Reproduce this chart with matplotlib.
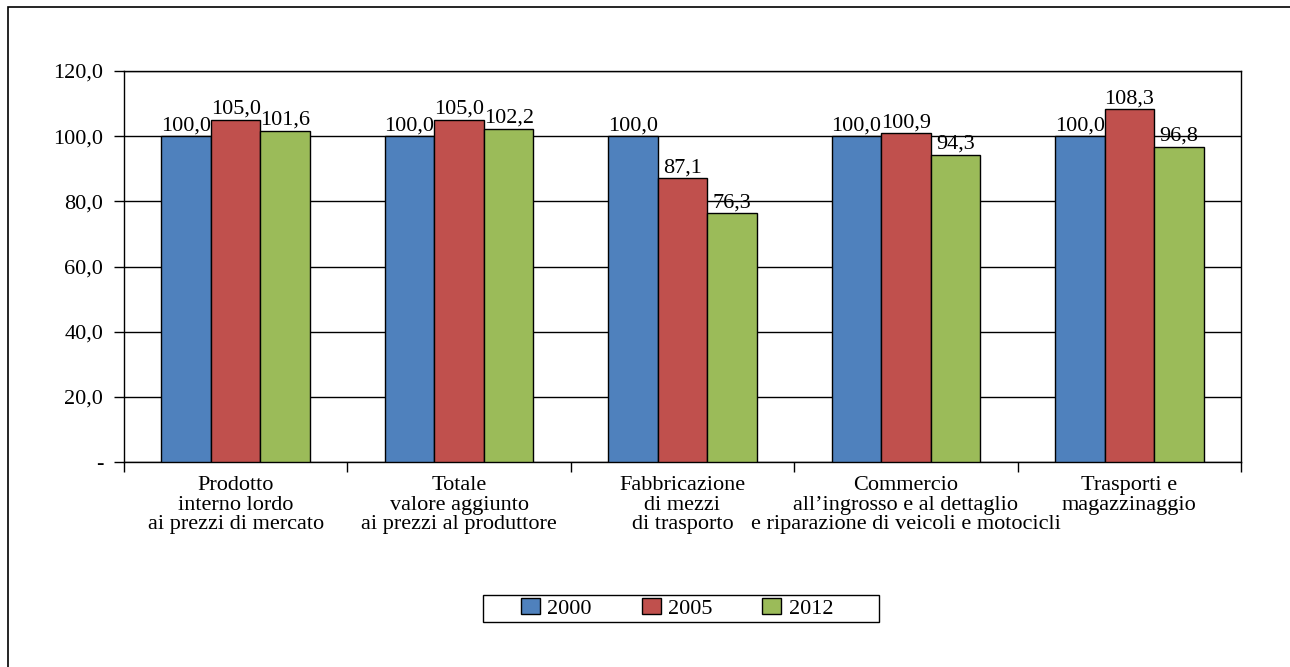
import numpy as np
import matplotlib
matplotlib.use("Agg")
import matplotlib.pyplot as plt
from matplotlib.patches import Rectangle

# data
categories = [
    "Prodotto\ninterno lordo\nai prezzi di mercato",
    "Totale\nvalore aggiunto\nai prezzi al produttore",
    "Fabbricazione\ndi mezzi\ndi trasporto",
    "Commercio\nall\u2019ingrosso e al dettaglio\ne riparazione di veicoli e motocicli",
    "Trasporti e\nmagazzinaggio",
]
years = ["2000", "2005", "2012"]
v2000 = [100.0, 100.0, 100.0, 100.0, 100.0]
v2005 = [105.0, 105.0, 87.1, 100.9, 108.3]
v2012 = [101.6, 102.2, 76.3, 94.3, 96.8]
y_ticks = [0, 20, 40, 60, 80, 100, 120]
y_labels = ["-", "20,0", "40,0", "60,0", "80,0", "100,0", "120,0"]

colors = ["#4F81BD", "#C0504D", "#9BBB59"]

plt.rcParams["font.family"] = ["Liberation Serif", "DejaVu Serif"]
FS = 16

W, H = 1290, 667
fig = plt.figure(figsize=(W / 100, H / 100), dpi=100)
ax = fig.add_axes([124 / W, 1 - 462 / H, (1241 - 124) / W, (462 - 71) / H])

# outer frame of the chart area
fig.patches.append(Rectangle((8 / W, -0.05), 1.1, 1 - 7 / H + 0.05,
                             transform=fig.transFigure, fill=False,
                             edgecolor="black", linewidth=1.2))

x = np.arange(len(categories))
w = 0.222
for i, (vals, year) in enumerate(zip([v2000, v2005, v2012], years)):
    pos = x + (i - 1) * w
    ax.bar(pos, vals, width=w, color=colors[i], edgecolor="black",
           linewidth=1.0, label=year, zorder=3)
    for p, v in zip(pos, vals):
        ax.text(p, v + 0.3, f"{v:.1f}".replace(".", ","), ha="center",
                va="bottom", fontsize=FS, zorder=4)

ax.set_xlim(-0.5, len(categories) - 0.5)
ax.set_ylim(0, 120)
ax.set_yticks(y_ticks)
ax.set_yticklabels(y_labels, fontsize=FS)
ax.yaxis.grid(True, color="black", linewidth=1.0, zorder=0)
ax.set_axisbelow(True)
ax.tick_params(axis="y", direction="out", length=7, width=1.0, pad=8)

ax.set_xticks(x)
ax.set_xticklabels(categories, fontsize=FS, linespacing=1.05)
ax.set_xticks(np.arange(-0.5, len(categories)), minor=True)
ax.tick_params(axis="x", which="major", length=0, pad=10)
ax.tick_params(axis="x", which="minor", direction="out", length=7, width=1.0)

for s in ax.spines.values():
    s.set_color("black")
    s.set_linewidth(1.0)

# legend: entries without frame, box drawn separately (wide side padding)
leg = fig.legend(loc="center", bbox_to_anchor=(677 / W, 1 - 608.5 / H),
                 ncol=3, fontsize=FS, frameon=False,
                 handlelength=0.86, handleheight=0.68,
                 handletextpad=0.32, columnspacing=2.25, borderpad=0,
                 borderaxespad=0)
for h in leg.legend_handles:
    h.set_edgecolor("black")
    h.set_linewidth(1.0)
fig.patches.append(Rectangle((483 / W, 1 - 622 / H), (879 - 483) / W, 27 / H,
                             transform=fig.transFigure, fill=False,
                             edgecolor="black", linewidth=1.0))

fig.savefig("out.png", dpi=100)
